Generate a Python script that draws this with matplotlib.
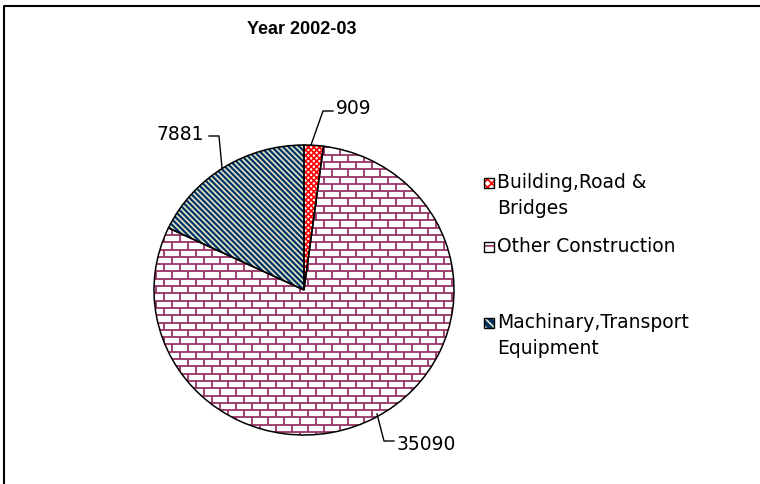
import matplotlib.pyplot as plt
import matplotlib.patches as patches
from matplotlib.collections import LineCollection
import numpy as np

plt.rcParams['font.family'] = ['DejaVu Sans']
plt.rcParams['hatch.linewidth'] = 1.2

# data
categories = ['Building,Road &\nBridges', 'Other Construction', 'Machinary,Transport\nEquipment']
values = [909, 35090, 7881]
title = 'Year 2002-03'

# pie geometry in pixels (ellipse, slightly wider than tall)
W, H = 760, 484
cx, cy = 304, 290
rx, ry = 150, 145


def px(x, y):
    # pixel (from top-left) -> data coords
    return (x - cx) / rx, (cy - y) / ry


fig = plt.figure(figsize=(W / 100, H / 100), dpi=100)
ax = fig.add_axes([0, 0, 1, 1])

wedges, _ = ax.pie(values, startangle=90, counterclock=False, radius=1,
                   center=(0, 0), frame=True)
ax.set_xlim(-cx / rx, (W - cx) / rx)
ax.set_ylim(-(H - cy) / ry, cy / ry)
ax.set_aspect('auto')
ax.axis('off')

# Building: red checker
wedges[0].set_facecolor('white')
wedges[0].set_edgecolor('#ff0000')
wedges[0].set_hatch('xxxxxx')
wedges[0].set_linewidth(0)
# Other construction: white with brick pattern drawn below
wedges[1].set_facecolor('white')
wedges[1].set_linewidth(0)
# Machinery: navy with light stripes
wedges[2].set_facecolor('#003366')
wedges[2].set_edgecolor('#e8e8c8')
wedges[2].set_hatch('\\\\\\\\\\\\')
wedges[2].set_linewidth(0)

# brick pattern clipped to the big wedge
segs = []
row_h, brick_w = 7.3, 16
y = 140.0
row = 0
while y < 445:
    segs.append([px(140, y), px(470, y)])
    off = 0 if row % 2 == 0 else brick_w / 2
    x = 140 + off
    while x < 470:
        segs.append([px(x, y), px(x, y + row_h)])
        x += brick_w
    y += row_h
    row += 1
bricks = LineCollection(segs, colors='#993366', linewidths=1.3, zorder=2)
ax.add_collection(bricks)
bricks.set_clip_path(wedges[1])

# black outlines on top
for w in wedges:
    ol = patches.Wedge((0, 0), 1, w.theta1, w.theta2, facecolor='none',
                       edgecolor='black', linewidth=1.1, zorder=3)
    ax.add_patch(ol)

# data labels with leader lines
lab_fs = 13.5
ax.plot(*zip(px(311, 145), px(323, 111), px(333, 111)), color='black', lw=1)
ax.text(*px(336, 108), '909', fontsize=lab_fs, ha='left', va='center')
ax.plot(*zip(px(222, 168), px(219, 136), px(209, 136)), color='black', lw=1)
ax.text(*px(204, 134), '7881', fontsize=lab_fs, ha='right', va='center')
ax.plot(*zip(px(377, 414), px(384, 441), px(394, 441)), color='black', lw=1)
ax.text(*px(397, 445), '35090', fontsize=lab_fs, ha='left', va='center')

# title
ax.text(*px(302, 30), title, fontsize=13, fontweight='bold',
        family='Liberation Sans', ha='center', va='center')

# legend drawn by hand
leg_y = [183, 247, 323]
leg_face = ['white', 'white', '#003366']
leg_hatch = ['xxxx', '--', '\\\\\\\\']
leg_hc = ['#ff0000', '#993366', '#e8e8c8']
for i, lab in enumerate(categories):
    x0, y0 = px(484, leg_y[i] + 5)
    x1, y1 = px(494, leg_y[i] - 5)
    sq = patches.Rectangle((x0, y0), x1 - x0, y1 - y0, facecolor=leg_face[i],
                           edgecolor=leg_hc[i], hatch=leg_hatch[i], lw=0)
    ax.add_patch(sq)
    ax.add_patch(patches.Rectangle((x0, y0), x1 - x0, y1 - y0, facecolor='none',
                                   edgecolor='black', lw=1))
    lines = lab.split('\n')
    for j, t in enumerate(lines):
        ax.text(*px(497, leg_y[i] + j * 26), t, fontsize=lab_fs,
                ha='left', va='center')

# chart border (left and top visible)
ax.plot(*zip(px(4, H + 5), px(4, 6), px(W + 5, 6)), color='black', lw=1.5,
        clip_on=False)

plt.savefig('out.png', dpi=100)
